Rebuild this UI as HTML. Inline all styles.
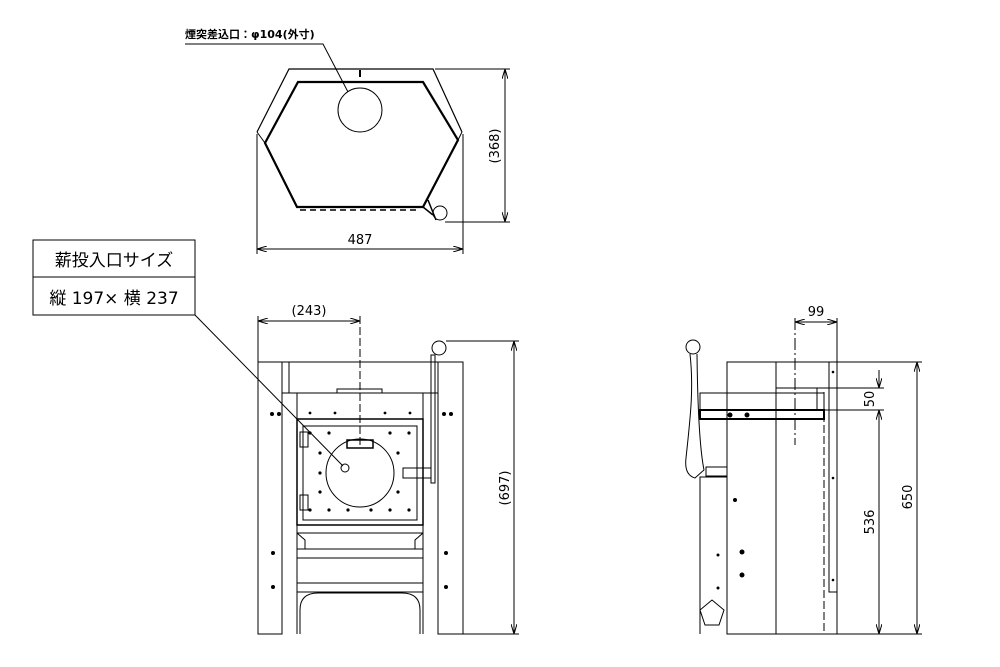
<!DOCTYPE html>
<html><head><meta charset="utf-8"><style>
html,body{margin:0;padding:0;background:#fff}
svg{display:block}
text{font-family:"DejaVu Sans","Noto Sans CJK JP",sans-serif;fill:#000}
</style></head><body>
<svg width="1000" height="667" viewBox="0 0 1000 667" xmlns="http://www.w3.org/2000/svg">
<defs>
<marker id="a" viewBox="0 0 10 6" refX="10" refY="3" markerWidth="10" markerHeight="6" markerUnits="userSpaceOnUse" orient="auto-start-reverse"><path d="M0,0 L10,3 L0,6" fill="none" stroke="#000" stroke-width="1"/></marker>
</defs>
<g fill="none" stroke="#000" stroke-width="1">
<!-- TOP VIEW -->
<polyline points="257,132 289,69 433,69 462,132" stroke-width="1.2"/>
<polygon points="265,143 298,82 423,82 458,140 423,207 297,207" stroke-width="2.2"/>
<line x1="257" y1="132" x2="265" y2="143"/><line x1="462" y1="132" x2="458" y2="140"/>
<line x1="300" y1="210" x2="420" y2="210" stroke-dasharray="6,4" stroke-width="1.5"/>
<circle cx="360" cy="110" r="22"/>
<line x1="360" y1="70" x2="360" y2="77" stroke-width="2"/>
<circle cx="440" cy="213" r="7"/>
<path d="M423,207 L433,215 M428,200 L436,220" stroke-width="1.5"/>
<line x1="435" y1="69" x2="510" y2="69"/><line x1="445" y1="222" x2="510" y2="222"/>
<line x1="505" y1="69" x2="505" y2="222" marker-start="url(#a)" marker-end="url(#a)"/>
<line x1="257" y1="134" x2="257" y2="254"/><line x1="463" y1="134" x2="463" y2="254"/>
<line x1="257" y1="249" x2="463" y2="249" marker-start="url(#a)" marker-end="url(#a)"/>
<polyline points="185,44 323,44 348,92"/>
<!-- label box -->
<rect x="33" y="240" width="162" height="75"/>
<line x1="33" y1="277" x2="195" y2="277"/>
<line x1="195" y1="315" x2="343" y2="466"/>
<!-- FRONT VIEW -->
<rect x="258" y="362" width="24" height="272"/>
<rect x="438" y="362" width="25" height="272"/>
<line x1="282" y1="362" x2="438" y2="362"/>
<line x1="289" y1="362" x2="289" y2="393"/>
<line x1="282" y1="393" x2="438" y2="393"/>
<rect x="337" y="389" width="45" height="4"/>
<line x1="297" y1="393" x2="297" y2="634"/><line x1="423" y1="393" x2="423" y2="634"/>
<rect x="297" y="419" width="126" height="106" stroke-width="1.5"/>
<rect x="303" y="426" width="114" height="94"/>
<circle cx="360" cy="473" r="34"/>
<circle cx="345" cy="468" r="4"/>
<rect x="347" y="440" width="26" height="8" stroke-width="1.5"/>
<rect x="297" y="525" width="126" height="8"/>
<path d="M297,533 L305,540 L305,549 M423,533 L415,540 L415,549"/>
<line x1="297" y1="549" x2="423" y2="549"/>
<line x1="297" y1="558" x2="423" y2="558"/>
<line x1="297" y1="583" x2="423" y2="583"/>
<line x1="297" y1="592" x2="423" y2="592"/>
<path d="M300,634 L300,610 Q300,593 318,593 L402,593 Q420,593 420,610 L420,634"/>
<rect x="300" y="432" width="8" height="15"/><rect x="300" y="495" width="8" height="15"/>
<rect x="403" y="468" width="28" height="10"/>
<rect x="431" y="355" width="4" height="128"/>
<circle cx="439" cy="348" r="7"/>
<line x1="258" y1="316" x2="258" y2="362"/>
<line x1="360" y1="316" x2="360" y2="445" stroke-dasharray="8,3"/>
<line x1="258" y1="321" x2="360" y2="321" marker-start="url(#a)" marker-end="url(#a)"/>
<line x1="446" y1="341" x2="519" y2="341"/><line x1="463" y1="634" x2="519" y2="634"/>
<line x1="514" y1="341" x2="514" y2="634" marker-start="url(#a)" marker-end="url(#a)"/>
<!-- SIDE VIEW -->
<rect x="727" y="362" width="110" height="272"/>
<line x1="776" y1="362" x2="776" y2="634"/>
<rect x="829" y="362" width="8" height="230"/>
<line x1="824" y1="392" x2="824" y2="634" stroke-dasharray="8,3"/>
<polyline points="700,634 700,477 727,477"/>
<rect x="700" y="393" width="124" height="26"/>
<rect x="700" y="410" width="124" height="9" stroke-width="2"/>
<rect x="776" y="388" width="41" height="22"/>
<circle cx="693" cy="347" r="7"/>
<path d="M690,354 C694,390 690,420 686,458 Q684,475 695,478 L704,470 Q698,440 697,354"/>
<rect x="706" y="467" width="21" height="9"/>
<path d="M705,625 L700,610 L712,600 L724,610 L719,625 Z"/>
<line x1="795" y1="318" x2="795" y2="445" stroke-dasharray="12,3,2,3"/>
<line x1="837" y1="318" x2="837" y2="362"/>
<line x1="795" y1="322" x2="837" y2="322" marker-start="url(#a)" marker-end="url(#a)"/>
<line x1="837" y1="362" x2="922" y2="362"/>
<line x1="817" y1="388" x2="884" y2="388"/>
<line x1="824" y1="410" x2="884" y2="410"/>
<line x1="837" y1="634" x2="922" y2="634"/>
<line x1="879" y1="370" x2="879" y2="388" marker-end="url(#a)"/>
<line x1="879" y1="410" x2="879" y2="634" marker-start="url(#a)" marker-end="url(#a)"/>
<line x1="917" y1="362" x2="917" y2="634" marker-start="url(#a)" marker-end="url(#a)"/>
</g>
<g fill="#000">
<circle cx="272" cy="414" r="2"/><circle cx="279" cy="414" r="2"/><circle cx="444" cy="414" r="2"/><circle cx="451" cy="414" r="2"/>
<circle cx="273" cy="553" r="2"/><circle cx="273" cy="587" r="2"/><circle cx="446" cy="553" r="2"/><circle cx="446" cy="587" r="2"/>
<circle cx="310" cy="433" r="1.6"/><circle cx="329" cy="433" r="1.6"/><circle cx="390" cy="433" r="1.6"/><circle cx="409" cy="433" r="1.6"/>
<circle cx="310" cy="510" r="1.6"/><circle cx="329" cy="510" r="1.6"/><circle cx="348" cy="510" r="1.6"/><circle cx="371" cy="510" r="1.6"/><circle cx="390" cy="510" r="1.6"/><circle cx="409" cy="510" r="1.6"/>
<circle cx="320" cy="453" r="1.6"/><circle cx="320" cy="473" r="1.6"/><circle cx="320" cy="492" r="1.6"/><circle cx="398" cy="453" r="1.6"/><circle cx="398" cy="492" r="1.6"/>
<circle cx="310" cy="413" r="1.4"/><circle cx="335" cy="413" r="1.4"/><circle cx="385" cy="413" r="1.4"/><circle cx="410" cy="413" r="1.4"/>
<circle cx="735" cy="500" r="2"/><circle cx="742" cy="552" r="2.5"/><circle cx="742" cy="575" r="2.5"/><circle cx="718" cy="555" r="1.5"/><circle cx="718" cy="588" r="1.5"/>
<circle cx="730" cy="415" r="2.5"/><circle cx="747" cy="415" r="2.5"/><circle cx="833" cy="372" r="1.3"/><circle cx="833" cy="478" r="1.3"/><circle cx="833" cy="580" r="1.3"/>
</g>
<text x="185" y="38" font-size="11" font-weight="bold">煙突差込口：φ104(外寸)</text>
<text x="114" y="266" font-size="17" text-anchor="middle">薪投入口サイズ</text>
<text x="114" y="304" font-size="17" text-anchor="middle">縦 197× 横 237</text>
<text x="360" y="244" font-size="13" text-anchor="middle">487</text>
<text x="309" y="315" font-size="13" text-anchor="middle">(243)</text>
<text x="816" y="316" font-size="13" text-anchor="middle">99</text>
<text font-size="13" text-anchor="middle" transform="translate(499,146) rotate(-90)">(368)</text>
<text font-size="13" text-anchor="middle" transform="translate(509,488) rotate(-90)">(697)</text>
<text font-size="13" text-anchor="middle" transform="translate(874,399) rotate(-90)">50</text>
<text font-size="13" text-anchor="middle" transform="translate(874,522) rotate(-90)">536</text>
<text font-size="13" text-anchor="middle" transform="translate(912,497) rotate(-90)">650</text>
</svg>
</body></html>
